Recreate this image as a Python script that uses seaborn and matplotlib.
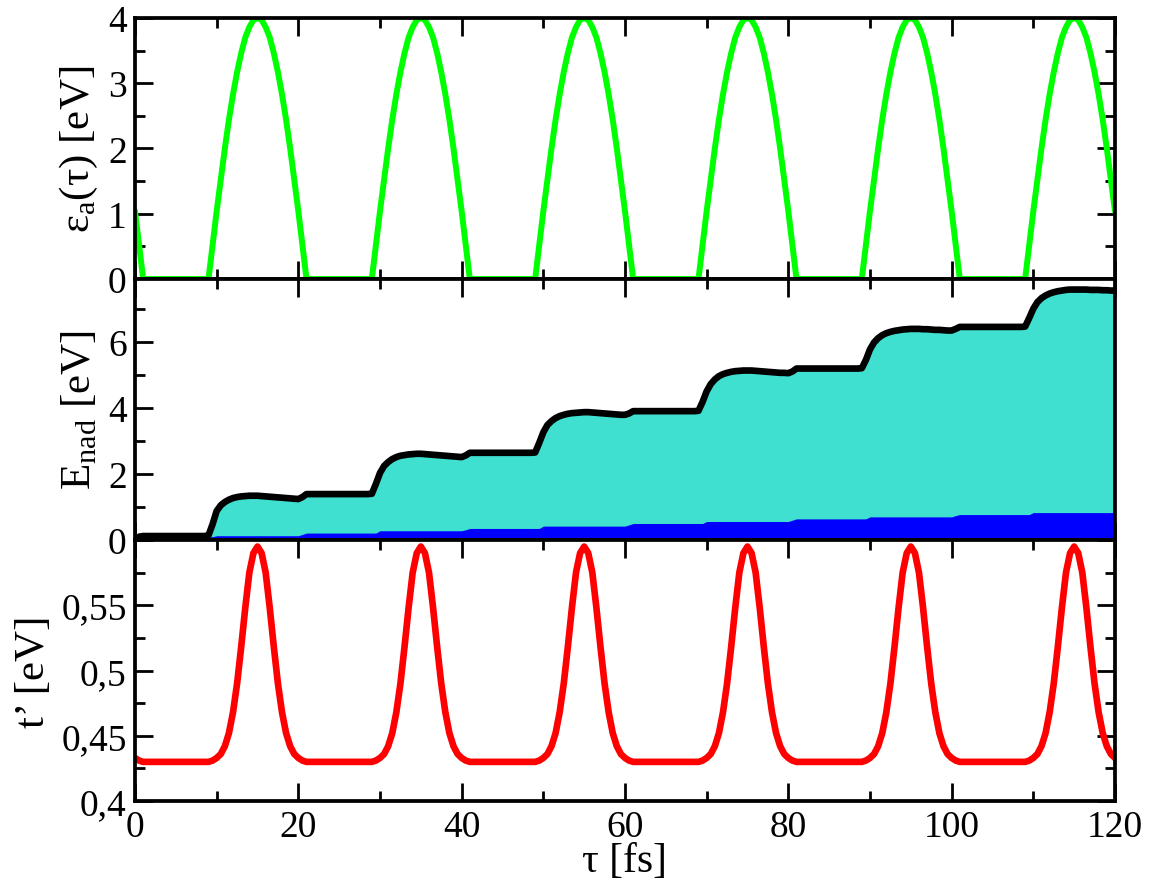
import numpy as np
import matplotlib
matplotlib.use("Agg")
import matplotlib.pyplot as plt
import seaborn as sns
from matplotlib.ticker import MultipleLocator, FixedLocator, FixedFormatter

# ---------------- data (0.5 fs steps) ----------------
tau = np.linspace(0, 120, 241)

# epsilon_a(tau) [eV]
eps_a = [
    1.04, 0.52, 0, 0, 0, 0, 0, 0, 0, 0, 0, 0, 0, 0, 0, 0, 0, 0, 0, 0.52,
    1.04, 1.52, 2.00, 2.44, 2.83, 3.17, 3.46, 3.70, 3.86, 3.97, 4.00, 3.97, 3.86, 3.70, 3.46, 3.17, 2.83, 2.44, 2.00, 1.52,
    1.04, 0.52, 0, 0, 0, 0, 0, 0, 0, 0, 0, 0, 0, 0, 0, 0, 0, 0, 0, 0.52,
    1.04, 1.52, 2.00, 2.44, 2.83, 3.17, 3.46, 3.70, 3.86, 3.97, 4.00, 3.97, 3.86, 3.70, 3.46, 3.17, 2.83, 2.44, 2.00, 1.52,
    1.04, 0.52, 0, 0, 0, 0, 0, 0, 0, 0, 0, 0, 0, 0, 0, 0, 0, 0, 0, 0.52,
    1.04, 1.52, 2.00, 2.44, 2.83, 3.17, 3.46, 3.70, 3.86, 3.97, 4.00, 3.97, 3.86, 3.70, 3.46, 3.17, 2.83, 2.44, 2.00, 1.52,
    1.04, 0.52, 0, 0, 0, 0, 0, 0, 0, 0, 0, 0, 0, 0, 0, 0, 0, 0, 0, 0.52,
    1.04, 1.52, 2.00, 2.44, 2.83, 3.17, 3.46, 3.70, 3.86, 3.97, 4.00, 3.97, 3.86, 3.70, 3.46, 3.17, 2.83, 2.44, 2.00, 1.52,
    1.04, 0.52, 0, 0, 0, 0, 0, 0, 0, 0, 0, 0, 0, 0, 0, 0, 0, 0, 0, 0.52,
    1.04, 1.52, 2.00, 2.44, 2.83, 3.17, 3.46, 3.70, 3.86, 3.97, 4.00, 3.97, 3.86, 3.70, 3.46, 3.17, 2.83, 2.44, 2.00, 1.52,
    1.04, 0.52, 0, 0, 0, 0, 0, 0, 0, 0, 0, 0, 0, 0, 0, 0, 0, 0, 0, 0.52,
    1.04, 1.52, 2.00, 2.44, 2.83, 3.17, 3.46, 3.70, 3.86, 3.97, 4.00, 3.97, 3.86, 3.70, 3.46, 3.17, 2.83, 2.44, 2.00, 1.52,
    1.04,
]

# E_nad total (black line, turquoise fill) [eV]
e_nad = [
    0.00, 0.10, 0.12, 0.12, 0.12, 0.12, 0.12, 0.12, 0.12, 0.12, 0.12, 0.12, 0.12, 0.12, 0.12, 0.12, 0.12, 0.12, 0.14, 0.48,
    0.88, 1.05, 1.15, 1.22, 1.27, 1.30, 1.32, 1.33, 1.34, 1.34, 1.34, 1.33, 1.32, 1.31, 1.30, 1.29, 1.28, 1.27, 1.26, 1.25,
    1.24, 1.30, 1.39, 1.39, 1.39, 1.39, 1.39, 1.39, 1.39, 1.39, 1.39, 1.39, 1.39, 1.39, 1.39, 1.39, 1.39, 1.39, 1.40, 1.70,
    2.03, 2.24, 2.36, 2.45, 2.51, 2.55, 2.57, 2.59, 2.60, 2.61, 2.61, 2.60, 2.59, 2.58, 2.57, 2.56, 2.55, 2.54, 2.53, 2.52,
    2.51, 2.56, 2.64, 2.64, 2.64, 2.64, 2.64, 2.64, 2.64, 2.64, 2.64, 2.64, 2.64, 2.64, 2.64, 2.64, 2.64, 2.64, 2.65, 2.94,
    3.26, 3.48, 3.60, 3.69, 3.75, 3.79, 3.82, 3.84, 3.85, 3.86, 3.87, 3.87, 3.86, 3.85, 3.84, 3.83, 3.82, 3.81, 3.80, 3.79,
    3.79, 3.83, 3.90, 3.90, 3.90, 3.90, 3.90, 3.90, 3.90, 3.90, 3.90, 3.90, 3.90, 3.90, 3.90, 3.90, 3.90, 3.90, 3.91, 4.18,
    4.50, 4.72, 4.86, 4.96, 5.02, 5.06, 5.09, 5.11, 5.12, 5.13, 5.13, 5.13, 5.12, 5.11, 5.10, 5.09, 5.08, 5.07, 5.06, 5.06,
    5.05, 5.10, 5.19, 5.19, 5.19, 5.19, 5.19, 5.19, 5.19, 5.19, 5.19, 5.19, 5.19, 5.19, 5.19, 5.19, 5.19, 5.19, 5.20, 5.45,
    5.77, 5.98, 6.11, 6.20, 6.26, 6.30, 6.33, 6.35, 6.37, 6.38, 6.39, 6.39, 6.39, 6.38, 6.38, 6.37, 6.36, 6.36, 6.35, 6.34,
    6.34, 6.39, 6.45, 6.45, 6.45, 6.45, 6.45, 6.45, 6.45, 6.45, 6.45, 6.45, 6.45, 6.45, 6.45, 6.45, 6.45, 6.45, 6.46, 6.72,
    7.00, 7.20, 7.32, 7.40, 7.46, 7.50, 7.53, 7.55, 7.57, 7.58, 7.58, 7.58, 7.58, 7.58, 7.57, 7.57, 7.57, 7.56, 7.56, 7.55,
    7.55,
]

# lower component of E_nad (blue fill) [eV]
e_low = [
    0.00, 0.08, 0.10, 0.10, 0.10, 0.10, 0.10, 0.10, 0.10, 0.10, 0.10, 0.10, 0.10, 0.10, 0.10, 0.10, 0.10, 0.10, 0.10, 0.10,
    0.13, 0.13, 0.13, 0.13, 0.13, 0.13, 0.13, 0.13, 0.13, 0.13, 0.13, 0.13, 0.13, 0.13, 0.13, 0.13, 0.13, 0.13, 0.13, 0.13,
    0.13, 0.17, 0.21, 0.21, 0.21, 0.21, 0.21, 0.21, 0.21, 0.21, 0.21, 0.21, 0.21, 0.21, 0.21, 0.21, 0.21, 0.21, 0.21, 0.21,
    0.28, 0.28, 0.28, 0.28, 0.28, 0.28, 0.28, 0.28, 0.28, 0.28, 0.28, 0.28, 0.28, 0.28, 0.28, 0.28, 0.28, 0.28, 0.28, 0.28,
    0.28, 0.31, 0.35, 0.35, 0.35, 0.35, 0.35, 0.35, 0.35, 0.35, 0.35, 0.35, 0.35, 0.35, 0.35, 0.35, 0.35, 0.35, 0.35, 0.35,
    0.42, 0.42, 0.42, 0.42, 0.42, 0.42, 0.42, 0.42, 0.42, 0.42, 0.42, 0.42, 0.42, 0.42, 0.42, 0.42, 0.42, 0.42, 0.42, 0.42,
    0.42, 0.46, 0.50, 0.50, 0.50, 0.50, 0.50, 0.50, 0.50, 0.50, 0.50, 0.50, 0.50, 0.50, 0.50, 0.50, 0.50, 0.50, 0.50, 0.50,
    0.56, 0.56, 0.56, 0.56, 0.56, 0.56, 0.56, 0.56, 0.56, 0.56, 0.56, 0.56, 0.56, 0.56, 0.56, 0.56, 0.56, 0.56, 0.56, 0.56,
    0.56, 0.60, 0.64, 0.64, 0.64, 0.64, 0.64, 0.64, 0.64, 0.64, 0.64, 0.64, 0.64, 0.64, 0.64, 0.64, 0.64, 0.64, 0.64, 0.64,
    0.70, 0.70, 0.70, 0.70, 0.70, 0.70, 0.70, 0.70, 0.70, 0.70, 0.70, 0.70, 0.70, 0.70, 0.70, 0.70, 0.70, 0.70, 0.70, 0.70,
    0.70, 0.74, 0.77, 0.77, 0.77, 0.77, 0.77, 0.77, 0.77, 0.77, 0.77, 0.77, 0.77, 0.77, 0.77, 0.77, 0.77, 0.77, 0.77, 0.77,
    0.83, 0.83, 0.83, 0.83, 0.83, 0.83, 0.83, 0.83, 0.83, 0.83, 0.83, 0.83, 0.83, 0.83, 0.83, 0.83, 0.83, 0.83, 0.83, 0.83,
    0.84,
]

# t' [eV]
t_prime = [
    0.433, 0.431, 0.430, 0.430, 0.430, 0.430, 0.430, 0.430, 0.430, 0.430, 0.430, 0.430, 0.430, 0.430, 0.430, 0.430, 0.430, 0.430, 0.430, 0.431,
    0.433, 0.436, 0.442, 0.452, 0.468, 0.490, 0.518, 0.548, 0.575, 0.590, 0.595, 0.590, 0.575, 0.548, 0.518, 0.490, 0.468, 0.452, 0.442, 0.436,
    0.433, 0.431, 0.430, 0.430, 0.430, 0.430, 0.430, 0.430, 0.430, 0.430, 0.430, 0.430, 0.430, 0.430, 0.430, 0.430, 0.430, 0.430, 0.430, 0.431,
    0.433, 0.436, 0.442, 0.452, 0.468, 0.490, 0.518, 0.548, 0.575, 0.590, 0.595, 0.590, 0.575, 0.548, 0.518, 0.490, 0.468, 0.452, 0.442, 0.436,
    0.433, 0.431, 0.430, 0.430, 0.430, 0.430, 0.430, 0.430, 0.430, 0.430, 0.430, 0.430, 0.430, 0.430, 0.430, 0.430, 0.430, 0.430, 0.430, 0.431,
    0.433, 0.436, 0.442, 0.452, 0.468, 0.490, 0.518, 0.548, 0.575, 0.590, 0.595, 0.590, 0.575, 0.548, 0.518, 0.490, 0.468, 0.452, 0.442, 0.436,
    0.433, 0.431, 0.430, 0.430, 0.430, 0.430, 0.430, 0.430, 0.430, 0.430, 0.430, 0.430, 0.430, 0.430, 0.430, 0.430, 0.430, 0.430, 0.430, 0.431,
    0.433, 0.436, 0.442, 0.452, 0.468, 0.490, 0.518, 0.548, 0.575, 0.590, 0.595, 0.590, 0.575, 0.548, 0.518, 0.490, 0.468, 0.452, 0.442, 0.436,
    0.433, 0.431, 0.430, 0.430, 0.430, 0.430, 0.430, 0.430, 0.430, 0.430, 0.430, 0.430, 0.430, 0.430, 0.430, 0.430, 0.430, 0.430, 0.430, 0.431,
    0.433, 0.436, 0.442, 0.452, 0.468, 0.490, 0.518, 0.548, 0.575, 0.590, 0.595, 0.590, 0.575, 0.548, 0.518, 0.490, 0.468, 0.452, 0.442, 0.436,
    0.433, 0.431, 0.430, 0.430, 0.430, 0.430, 0.430, 0.430, 0.430, 0.430, 0.430, 0.430, 0.430, 0.430, 0.430, 0.430, 0.430, 0.430, 0.430, 0.431,
    0.433, 0.436, 0.442, 0.452, 0.468, 0.490, 0.518, 0.548, 0.575, 0.590, 0.595, 0.590, 0.575, 0.548, 0.518, 0.490, 0.468, 0.452, 0.442, 0.436,
    0.433,
]

tprime_ticks = [0.4, 0.45, 0.5, 0.55, 0.6]
tprime_labels = ["0,4", "0,45", "0,5", "0,55", ""]

# ---------------- style ----------------
sns.set_style("ticks")
plt.rcParams["font.family"] = ["Liberation Serif", "DejaVu Serif"]
plt.rcParams["mathtext.fontset"] = "custom"
plt.rcParams["mathtext.rm"] = "Liberation Serif"
plt.rcParams["axes.linewidth"] = 2.7
plt.rcParams["text.color"] = "black"
plt.rcParams["axes.labelcolor"] = "black"
plt.rcParams["axes.edgecolor"] = "black"
plt.rcParams["xtick.color"] = "black"
plt.rcParams["ytick.color"] = "black"

fig, axes = plt.subplots(3, 1, sharex=True, figsize=(11.51, 8.87), dpi=100)
fig.subplots_adjust(left=0.1173, right=0.9687, top=0.9786, bottom=0.0958, hspace=0)
ax1, ax2, ax3 = axes

# top: epsilon_a
sns.lineplot(x=tau, y=eps_a, ax=ax1, color="#00ff00", lw=4.3, sort=False)
ax1.set_ylim(0, 4)
ax1.yaxis.set_major_locator(MultipleLocator(1))
ax1.yaxis.set_minor_locator(MultipleLocator(0.5))
ax1.set_ylabel(r"ε$_{\mathregular{a}}$(τ) [eV]", fontsize=31, labelpad=6)

# middle: E_nad
ax2.fill_between(tau, 0, e_nad, color="#40e0d0", lw=0)
ax2.fill_between(tau, 0, e_low, color="#0000ff", lw=0)
sns.lineplot(x=tau, y=e_nad, ax=ax2, color="black", lw=4.8, sort=False)
ax2.set_ylim(0, 7.9)
ax2.yaxis.set_major_locator(MultipleLocator(2))
ax2.yaxis.set_minor_locator(MultipleLocator(1))
ax2.set_ylabel(r"E$_{\mathregular{nad}}$ [eV]", fontsize=31, labelpad=6)

# bottom: t'
sns.lineplot(x=tau, y=t_prime, ax=ax3, color="#ff0000", lw=4.8, sort=False)
ax3.set_ylim(0.4, 0.6)
ax3.yaxis.set_major_locator(FixedLocator(tprime_ticks))
ax3.yaxis.set_major_formatter(FixedFormatter(tprime_labels))
ax3.yaxis.set_minor_locator(MultipleLocator(0.025))
ax3.set_ylabel("t’ [eV]", fontsize=31, labelpad=6)

ax3.set_xlim(0, 120)
ax3.xaxis.set_major_locator(MultipleLocator(20))
ax3.xaxis.set_minor_locator(MultipleLocator(10))
ax3.set_xlabel("τ [fs]", fontsize=30, labelpad=-2)

for ax in axes:
    ax.tick_params(which="both", direction="in", top=True, right=True,
                   width=2, labelsize=27, pad=6, colors="black")
    ax.tick_params(which="major", length=13)
    ax.tick_params(which="minor", length=7)
    for s in ax.spines.values():
        s.set_linewidth(2.7)
        s.set_edgecolor("black")
        s.set_zorder(5)

fig.savefig("out.png", dpi=100)
